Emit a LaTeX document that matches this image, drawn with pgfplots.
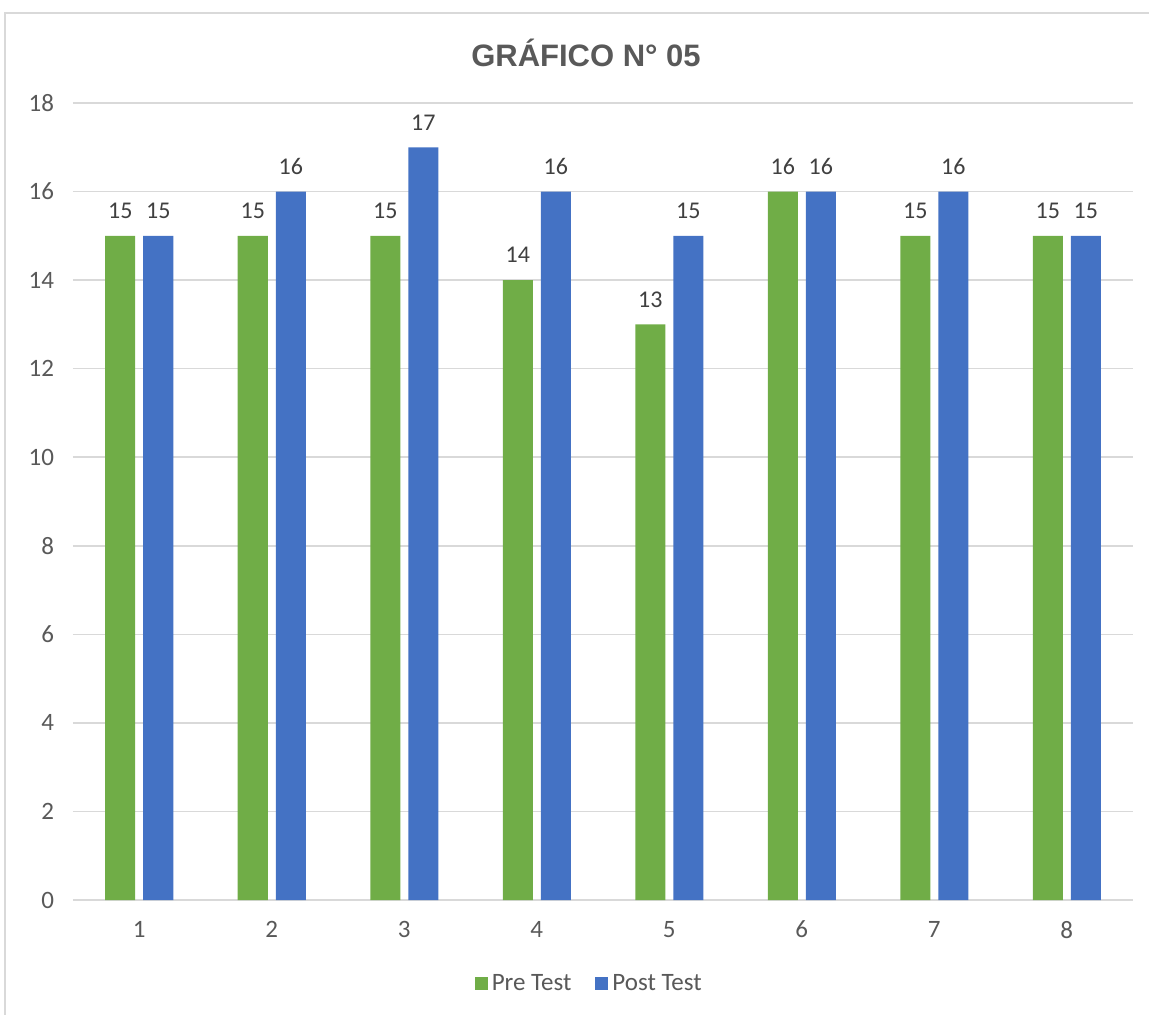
\documentclass[border=0pt]{standalone}
\usepackage{pgfplots}
\pgfplotsset{compat=1.18}
\usepackage{fontspec}
\setmainfont{Carlito}
\newfontfamily\titlefont{Liberation Sans}
\definecolor{pregreen}{HTML}{70AD47}
\definecolor{postblue}{HTML}{4472C4}
\definecolor{txt}{HTML}{595959}
\definecolor{lbl}{HTML}{404040}
\definecolor{gridc}{HTML}{D9D9D9}
\begin{document}
\begin{tikzpicture}
\useasboundingbox (0,0) rectangle (574.5pt,507pt);
\draw[gridc, line width=0.8pt] (2.5pt,-10pt) -- (2.5pt,500.5pt) -- (590pt,500.5pt);
\node[font=\titlefont\bfseries\fontsize{15.5}{18}\selectfont, text=txt] at (293pt,480.5pt) {GRÁFICO N° 05};
\begin{axis}[
  /pgf/number format/assume math mode=true,
  at={(36.5pt,57pt)}, anchor=south west, scale only axis,
  width=530pt, height=398.5pt,
  xmin=0.5, xmax=8.5, ymin=0, ymax=18,
  ytick={0,2,...,18}, xtick={1,...,8},
  ybar=4pt, bar width=15pt,
  axis x line*=bottom, axis y line*=left,
  y axis line style={draw=none},
  x axis line style={gridc, line width=0.8pt, -},
  major tick length=0pt,
  ymajorgrids, grid style={gridc, line width=0.8pt},
  tick label style={font=\fontsize{12.5}{14}\selectfont, text=txt},
  yticklabel style={xshift=-6pt},
  xticklabel style={yshift=-7pt},
  nodes near coords,
  every node near coord/.append style={font=\fontsize{12}{14}\selectfont, text=lbl, anchor=center, yshift=12.5pt},
  legend style={draw=none, at={(0.488,-0.105)}, anchor=center, legend columns=2,
    font=\fontsize{12.5}{14}\selectfont, text=txt,
    /tikz/every even column/.append style={column sep=10pt}},
  legend image code/.code={\fill[#1] (0pt,-3.25pt) rectangle (6.5pt,3.25pt);},
]
\addplot[fill=pregreen, draw=none] coordinates {(1,15) (2,15) (3,15) (4,14) (5,13) (6,16) (7,15) (8,15)};
\addplot[fill=postblue, draw=none] coordinates {(1,15) (2,16) (3,17) (4,16) (5,15) (6,16) (7,16) (8,15)};
\legend{Pre Test, Post Test}
\end{axis}
\end{tikzpicture}
\end{document}
